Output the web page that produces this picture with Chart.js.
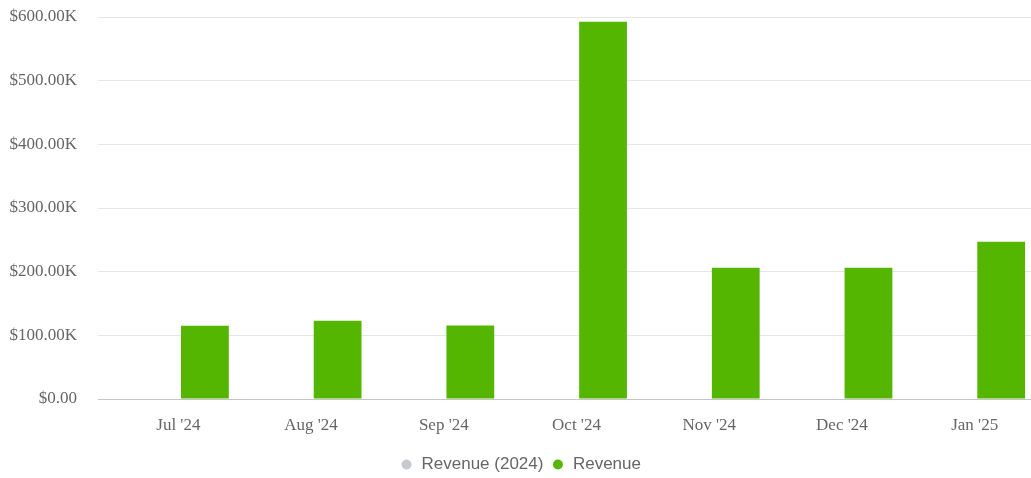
<!doctype html>
<html lang="en">

<head>
    <meta charset="utf-8">
    <title>Revenue</title>
    <style>
        html, body { margin: 0; padding: 0; overflow: hidden; background: #fff; }
        #wrap { position: relative; width: 1041px; height: 483px; }
    </style>
</head>

<body>
    <div id="wrap">
        <canvas id="myChart"></canvas>
    </div>

    <script src="https://cdn.jsdelivr.net/npm/chart.js@4.4.0/dist/chart.umd.min.js"></script>
    <script>
        const months = ["Jul '24", "Aug '24", "Sep '24", "Oct '24", "Nov '24", "Dec '24", "Jan '25"];
        const revenue2024 = [null, null, null, null, null, null, null];
        const revenue = [115000, 123000, 115500, 592500, 206000, 206000, 247000];

        function money(v) {
            if (v == 0) return "$0.00";
            return "$" + (v / 1000).toFixed(2) + "K";
        }

        const data = {
            labels: months,
            datasets: [
                {
                    label: 'Revenue (2024)',
                    data: revenue2024,
                    backgroundColor: '#c6c9cd',
                    borderWidth: 0,
                },
                {
                    label: 'Revenue',
                    data: revenue,
                    backgroundColor: '#54b600',
                    borderWidth: 0,
                }
            ]
        };

        const config = {
            type: 'bar',
            data: data,
            options: {
                responsive: true,
                maintainAspectRatio: false,
                animation: false,
                categoryPercentage: 0.8,
                barPercentage: 0.9,
                layout: {
                    padding: { top: 17, right: 0, bottom: 0, left: 0 }
                },
                plugins: {
                    tooltip: { enabled: false },
                    legend: {
                        position: 'bottom',
                        labels: {
                            usePointStyle: true,
                            pointStyle: 'circle',
                            boxWidth: 13,
                            boxHeight: 7,
                            padding: 8,
                            color: '#666',
                            font: { family: 'Liberation Sans, Arial, sans-serif', size: 17 }
                        }
                    }
                },
                scales: {
                    x: {
                        grid: { display: false, drawTicks: false },
                        border: { display: false },
                        ticks: {
                            padding: 16,
                            color: '#666',
                            maxRotation: 0,
                            font: { family: 'Liberation Serif, Times New Roman, serif', size: 17 }
                        },
                        afterFit: s => { s.height = 49; }
                    },
                    y: {
                        min: 0,
                        max: 600000,
                        border: { display: false },
                        grid: {
                            color: c => c.tick && c.tick.value === 0 ? '#c4c4c4' : '#e6e6e6',
                            drawTicks: true,
                            tickLength: 14,
                            lineWidth: 1
                        },
                        ticks: {
                            stepSize: 100000,
                            padding: 21,
                            color: '#666',
                            font: { family: 'Liberation Serif, Times New Roman, serif', size: 17 },
                            callback: v => money(v)
                        },
                        afterFit: s => {
                            s.width = 112;
                            s.paddingTop = 0;
                            s.paddingBottom = 0;
                        }
                    }
                }
            }
        };

        new Chart(document.getElementById('myChart'), config);
    </script>
</body>

</html>
